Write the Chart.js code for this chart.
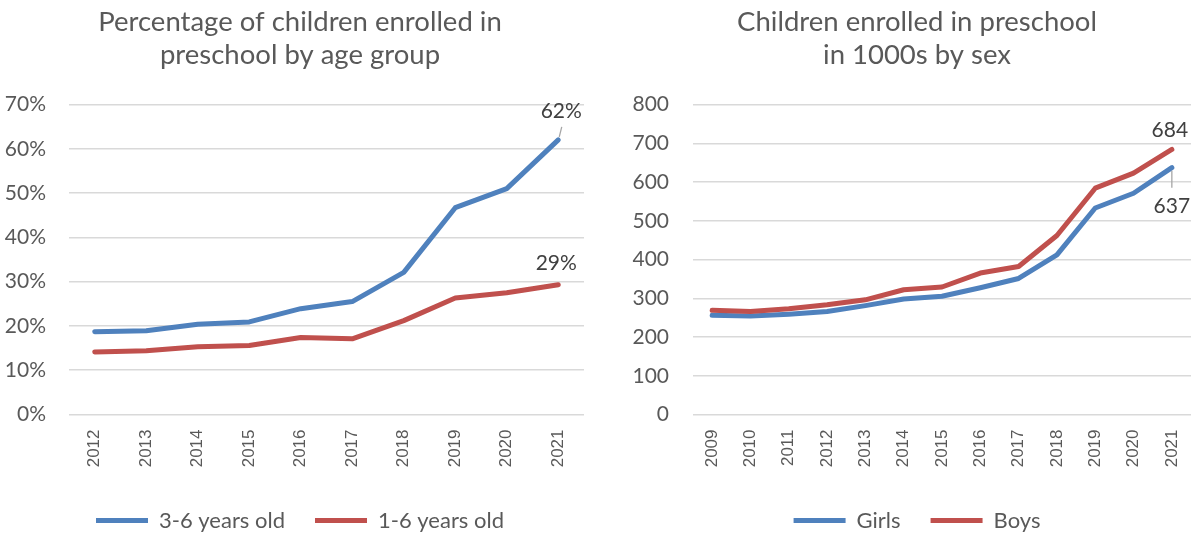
<!DOCTYPE html>
<html>
<head>
<meta charset="utf-8">
<script src="https://cdn.jsdelivr.net/npm/chart.js@4.4.1/dist/chart.umd.min.js"></script>
<style>
  html, body { margin: 0; padding: 0; background: #ffffff; overflow: hidden; }
  #wrap { position: relative; width: 1194px; height: 533px; overflow: hidden; }
  #ageChart { position: absolute; left: 0; top: 0; }
  #sexChart { position: absolute; left: 600px; top: 0; }
</style>
</head>
<body>
<div id="wrap">
  <canvas id="ageChart" width="600" height="533"></canvas>
  <canvas id="sexChart" width="634" height="533"></canvas>
</div>
<script>
// Share of children enrolled in preschool, by age group (%)
const ageYears = ['2012', '2013', '2014', '2015', '2016', '2017', '2018', '2019', '2020', '2021'];
const age3to6 = [18.7, 18.9, 20.4, 20.9, 23.9, 25.5, 32.1, 46.7, 51.0, 62.0];
const age1to6 = [14.1, 14.4, 15.3, 15.6, 17.4, 17.1, 21.2, 26.3, 27.5, 29.3];
const ageTicks = [0, 10, 20, 30, 40, 50, 60, 70];

// Children enrolled in preschool, thousands, by sex
const sexYears = ['2009', '2010', '2011', '2012', '2013', '2014', '2015', '2016', '2017', '2018', '2019', '2020', '2021'];
const girls = [256, 254, 259, 266, 281, 298, 305, 327, 351, 412, 533, 571, 637];
const boys = [269, 266, 273, 283, 296, 322, 329, 365, 382, 462, 584, 623, 684];
const sexTicks = [0, 100, 200, 300, 400, 500, 600, 700, 800];

const BLUE = '#4F81BD';
const RED = '#C0504D';
const TEXT = '#595959';
const GRID = '#d9d9d9';
const BODY_FONT = 'Lato, "Open Sans", sans-serif';
const TICK_FONT = '"Liberation Sans", Arial, sans-serif';

// Draws value labels (with optional leader lines) next to chosen points
const valueLabels = {
  id: 'valueLabels',
  afterDatasetsDraw(chart, args, opts) {
    const ctx = chart.ctx;
    (opts.items || []).forEach(it => {
      const pt = chart.getDatasetMeta(it.dataset).data[it.index];
      const value = chart.data.datasets[it.dataset].data[it.index];
      ctx.save();
      if (it.leader) {
        ctx.strokeStyle = '#a6a6a6';
        ctx.lineWidth = 1.3;
        ctx.beginPath();
        ctx.moveTo(pt.x + it.leader[0], pt.y + it.leader[1]);
        ctx.lineTo(pt.x + it.leader[2], pt.y + it.leader[3]);
        ctx.stroke();
      }
      ctx.fillStyle = '#404040';
      ctx.font = opts.font;
      ctx.textAlign = 'center';
      ctx.textBaseline = 'middle';
      ctx.fillText(opts.format(value), pt.x + it.dx, pt.y + it.dy);
      ctx.restore();
    });
  }
};

function lineDataset(label, data, color, order) {
  return {
    label, data, order,
    borderColor: color,
    backgroundColor: color,
    borderWidth: 5,
    borderCapStyle: 'round',
    borderJoinStyle: 'round',
    pointRadius: 0,
    pointHoverRadius: 0,
    tension: 0,
    fill: false
  };
}

function makeOptions(cfg) {
  return {
    responsive: false,
    animation: false,
    events: [],
    layout: { padding: 0 },
    scales: {
      x: {
        type: 'category',
        offset: true,
        grid: { display: false, drawTicks: false },
        border: { display: false },
        ticks: {
          autoSkip: false,
          minRotation: 90,
          maxRotation: 90,
          padding: 15,
          color: TEXT,
          font: { family: TICK_FONT, size: 17 }
        },
        afterFit(scale) { scale.height = 65; }
      },
      y: {
        min: cfg.ticks[0],
        max: cfg.ticks[cfg.ticks.length - 1],
        afterBuildTicks(scale) { scale.ticks = cfg.ticks.map(v => ({ value: v })); },
        grid: { color: GRID, lineWidth: 1.5, drawTicks: false },
        border: { display: false },
        ticks: {
          padding: cfg.tickPad,
          color: TEXT,
          font: { family: BODY_FONT, size: 21 },
          callback: cfg.tickFormat
        },
        afterFit(scale) { scale.width = cfg.axisWidth; }
      },
      // empty spacer on the right so title and legend stay centred on the whole canvas
      spacer: {
        type: 'linear',
        position: 'right',
        grid: { display: false, drawTicks: false },
        border: { display: false },
        ticks: { display: false },
        afterFit(scale) { scale.width = cfg.padRight; }
      }
    },
    plugins: {
      title: {
        display: true,
        text: cfg.title,
        color: TEXT,
        font: { family: BODY_FONT, size: 27.5, weight: 'normal', lineHeight: 33 / 27.5 },
        padding: { top: 5.5, bottom: 33 }
      },
      legend: {
        position: 'bottom',
        maxHeight: 53.5,
        labels: {
          usePointStyle: true,
          pointStyle: 'line',
          pointStyleWidth: 52,
          padding: 30,
          color: TEXT,
          font: { family: BODY_FONT, size: 22 },
          sort: (a, b) => a.datasetIndex - b.datasetIndex
        }
      },
      tooltip: { enabled: false },
      valueLabels: {
        font: '21px ' + BODY_FONT,
        format: cfg.labelFormat,
        items: cfg.labels
      }
    }
  };
}

new Chart(document.getElementById('ageChart'), {
  type: 'line',
  data: {
    labels: ageYears,
    datasets: [
      lineDataset('3-6 years old', age3to6, BLUE, 1),
      lineDataset('1-6 years old', age1to6, RED, 0)
    ]
  },
  options: makeOptions({
    title: ['Percentage of children enrolled in', 'preschool by age group'],
    ticks: ageTicks,
    tickFormat: v => v + '%',
    labelFormat: v => Math.round(v) + '%',
    padRight: 16,
    axisWidth: 69,
    tickPad: 23,
    labels: [
      { dataset: 0, index: ageYears.length - 1, dx: 3, dy: -29, leader: [1, -3, 3.5, -13] },
      { dataset: 1, index: ageYears.length - 1, dx: -2, dy: -22 }
    ]
  }),
  plugins: [valueLabels]
});

new Chart(document.getElementById('sexChart'), {
  type: 'line',
  data: {
    labels: sexYears,
    datasets: [
      lineDataset('Girls', girls, BLUE, 1),
      lineDataset('Boys', boys, RED, 0)
    ]
  },
  options: makeOptions({
    title: ['Children enrolled in preschool', 'in 1000s by sex'],
    ticks: sexTicks,
    tickFormat: v => String(v),
    labelFormat: v => String(Math.round(v)),
    padRight: 43,
    axisWidth: 93,
    tickPad: 24,
    labels: [
      { dataset: 1, index: sexYears.length - 1, dx: -2, dy: -19 },
      { dataset: 0, index: sexYears.length - 1, dx: 0, dy: 39, leader: [0, 3, 0, 20] }
    ]
  }),
  plugins: [valueLabels]
});
</script>
</body>
</html>
